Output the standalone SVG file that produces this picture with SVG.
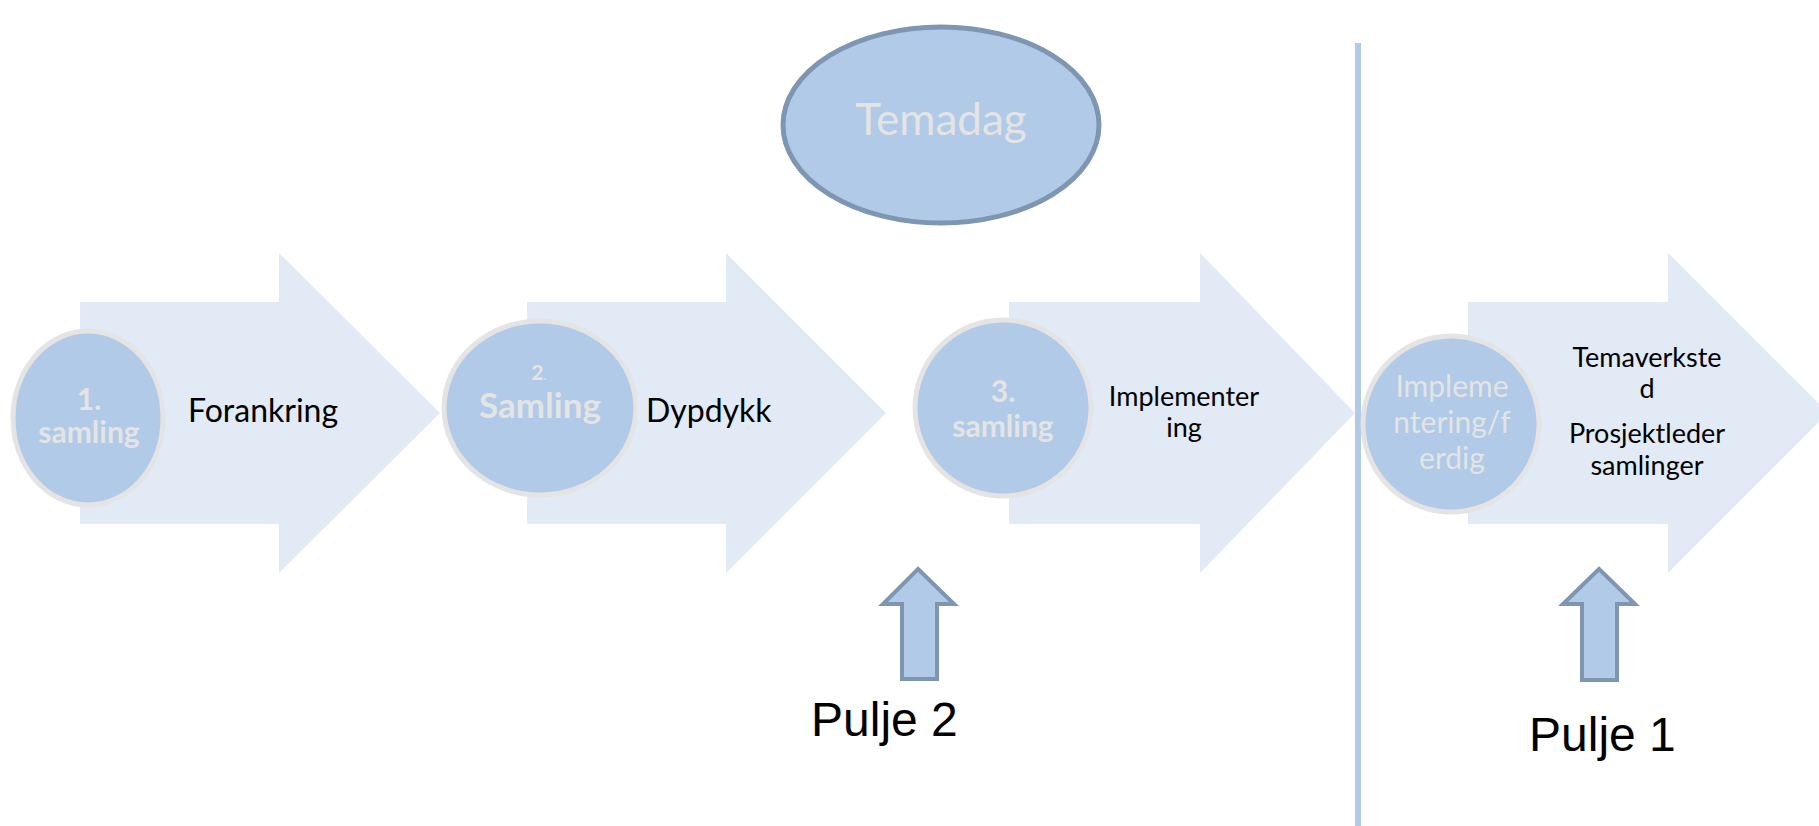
<svg xmlns="http://www.w3.org/2000/svg" width="1819" height="826" viewBox="0 0 1819 826">
<style>
.arrow{fill:#e2eaf6;stroke:none}
.circ{fill:#b0cae8;stroke:#e4e4e4;stroke-width:5}
.ctxt{font-family:Lato,"Open Sans","DejaVu Sans",sans-serif;fill:#e4e4e4;text-anchor:middle}
.b{font-weight:bold}
.lbl{font-family:Lato,"Open Sans","DejaVu Sans",sans-serif;fill:#000}
.up{fill:#b0cae8;stroke:#7f96b2;stroke-width:4;stroke-linejoin:miter}
.pulje{font-family:"Liberation Sans",Arial,sans-serif;font-size:48px;fill:#000}
</style>
<rect width="1819" height="826" fill="#ffffff"/>
<g id="connectors">
<rect id="divider" x="1355" y="43" width="6" height="783" fill="#b0cae8"/>
</g>
<g id="step1">
<polygon class="arrow" points="80,302 279,302 279,253 440,413 279,573 279,524 80,524"/>
<ellipse class="circ" cx="88" cy="418" rx="75" ry="87"/>
<text class="ctxt b" x="89" y="410" font-size="30">1.</text>
<text class="ctxt b" x="89" y="443" font-size="30">samling</text>
<text class="lbl" x="188" y="422" font-size="32">Forankring</text>
</g>
<g id="step2">
<polygon class="arrow" points="527,302 726,302 726,253 886,413 726,573 726,524 527,524"/>
<ellipse class="circ" cx="540" cy="408" rx="96" ry="87"/>
<text class="ctxt" x="539" y="380" font-size="21"><tspan class="b">2</tspan><tspan font-size="14">.</tspan></text>
<text class="ctxt b" x="540" y="418" font-size="35">Samling</text>
<text class="lbl" x="646" y="422" font-size="32">Dypdykk</text>
</g>
<g id="step3">
<polygon class="arrow" points="1009,302 1200,302 1200,253 1355,413 1200,573 1200,524 1009,524"/>
<ellipse class="circ" cx="1003" cy="408" rx="88" ry="88"/>
<text class="ctxt b" x="1003" y="402" font-size="30">3.</text>
<text class="ctxt b" x="1003" y="437" font-size="30">samling</text>
<text class="lbl" x="1184" y="406" font-size="27" text-anchor="middle">Implementer</text>
<text class="lbl" x="1184" y="437" font-size="27" text-anchor="middle">ing</text>
</g>
<g id="step4">
<polygon class="arrow" points="1468,302 1668,302 1668,253 1828,413 1668,573 1668,524 1468,524"/>
<ellipse class="circ" cx="1451" cy="424" rx="88" ry="88"/>
<text class="ctxt" x="1452" y="397" font-size="30">Impleme</text>
<text class="ctxt" x="1452" y="433" font-size="30">ntering/f</text>
<text class="ctxt" x="1452" y="469" font-size="30">erdig</text>
<text class="lbl" x="1647" y="367" font-size="27" text-anchor="middle">Temaverkste</text>
<text class="lbl" x="1647" y="398" font-size="27" text-anchor="middle">d</text>
<text class="lbl" x="1647" y="443" font-size="27" text-anchor="middle">Prosjektleder</text>
<text class="lbl" x="1647" y="475" font-size="27" text-anchor="middle">samlinger</text>
</g>
<g id="temadag">
<ellipse cx="941" cy="125" rx="158" ry="98" fill="#b0cae8" stroke="#7f96b2" stroke-width="5"/>
<text class="ctxt" x="941" y="135" font-size="44" fill="#e2e2e2">Temadag</text>
</g>
<g id="pulje2">
<polygon class="up" points="918,569 954,604 937,604 937,679 902,679 902,604 883,604"/>
<text class="pulje" x="811" y="736">Pulje 2</text>
</g>
<g id="pulje1">
<polygon class="up" points="1599,569 1635,604 1617,604 1617,680 1582,680 1582,604 1563,604"/>
<text class="pulje" x="1529" y="751">Pulje 1</text>
</g>
</svg>
